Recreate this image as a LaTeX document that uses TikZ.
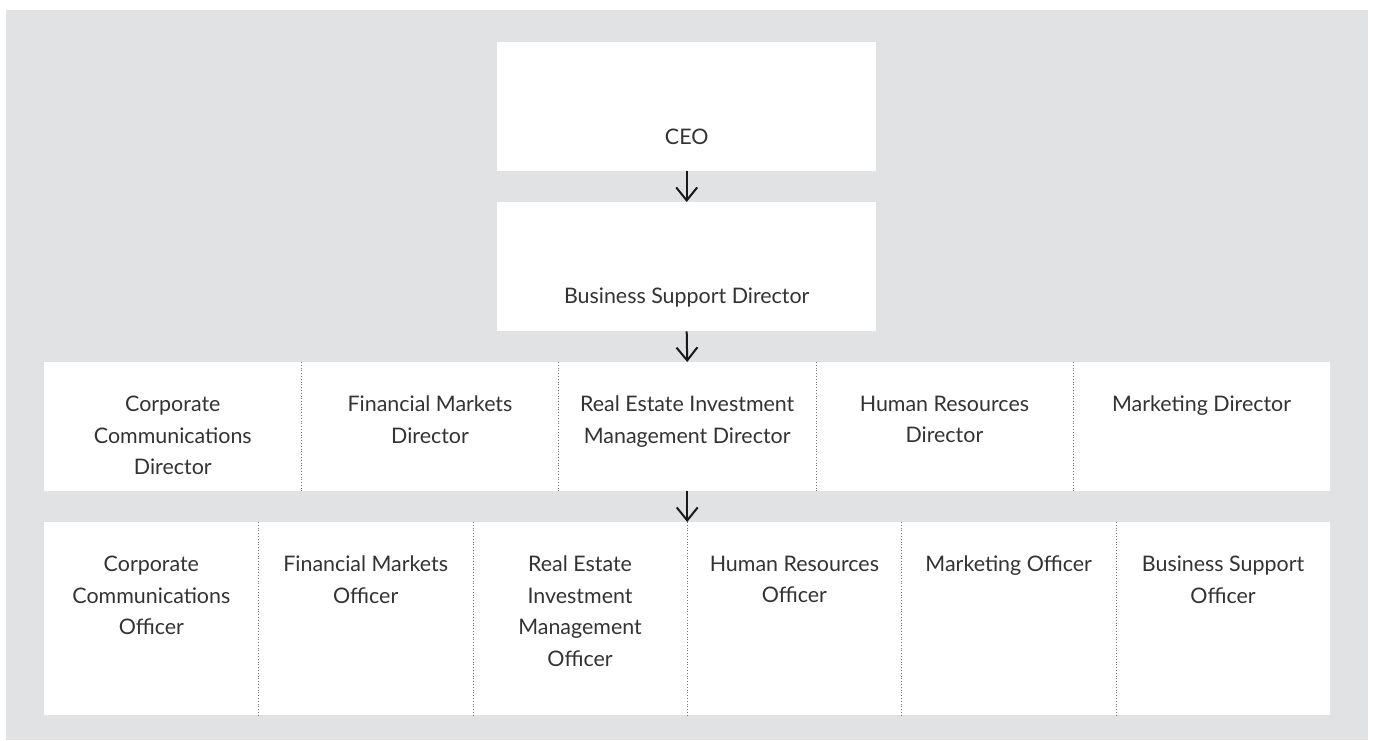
\documentclass[tikz,border=0pt]{standalone}
\usepackage{fontspec}
\setmainfont{Lato}
\usetikzlibrary{arrows.meta}
\definecolor{bg}{HTML}{E1E2E4}
\definecolor{txt}{HTML}{333333}
\definecolor{divc}{HTML}{777777}
\begin{document}
\begin{tikzpicture}[x=1bp,y=-1bp,
  box/.style={fill=white, draw=none, inner sep=0, anchor=north west},
  cellA/.style={draw=none, inner sep=0, anchor=north west, minimum width=257.2bp, minimum height=129bp},
  cellB/.style={draw=none, inner sep=0, anchor=north west, minimum width=214.333bp, minimum height=193bp},
  lbl/.style={text=txt, font=\fontsize{21.5}{31.5}\selectfont, align=center, inner sep=0},
  lblt/.style={lbl, anchor=north},
  divider/.style={draw=divc, dotted, line width=0.8bp},
  arr/.style={draw=black!90, line width=2bp, -{Straight Barb[length=13bp, width=21bp, line width=2bp]}}
]
\useasboundingbox (0,0) rectangle (1373,740);
\fill[bg] (6,10) rectangle (1368,740);

% top boxes
\node[box, minimum width=379bp, minimum height=129bp] (ceo) at (497,42) {};
\node[lbl] (ceot) at ([yshift=-95bp]ceo.north) {CEO};
\node[box, minimum width=379bp, minimum height=129bp] (bsd) at (497,202) {};
\node[lbl] (bsdt) at ([yshift=-96bp]bsd.north) {Business Support Director};

% row 1
\node[box, minimum width=1286bp, minimum height=129bp] (r1) at (44,362) {};
\node[cellA] (a1) at (44,362) {};
\node[cellA] (a2) at (301.2,362) {};
\node[cellA] (a3) at (558.4,362) {};
\node[cellA] (a4) at (815.6,362) {};
\node[cellA] (a5) at (1072.8,362) {};
\node[lblt] (a1t) at ([yshift=-34bp]a1.north) {Corporate\\Communications\\Director};
\node[lblt] (a2t) at ([yshift=-34bp]a2.north) {Financial Markets\\Director};
\node[lblt] (a3t) at ([yshift=-34bp]a3.north) {Real Estate Investment\\Management Director};
\node[lblt] (a4t) at ([yshift=-34bp]a4.north) {Human Resources\\Director};
\node[lblt] (a5t) at ([yshift=-34bp]a5.north) {Marketing Director};
\foreach \c in {a1,a2,a3,a4}{\draw[divider] (\c.north east) -- (\c.south east);}

% row 2
\node[box, minimum width=1286bp, minimum height=193bp] (r2) at (44,522) {};
\node[cellB] (b1) at (44,522) {};
\node[cellB] (b2) at (258.333,522) {};
\node[cellB] (b3) at (472.667,522) {};
\node[cellB] (b4) at (687,522) {};
\node[cellB] (b5) at (901.333,522) {};
\node[cellB] (b6) at (1115.667,522) {};
\node[lblt] (b1t) at ([yshift=-34bp]b1.north) {Corporate\\Communications\\Officer};
\node[lblt] (b2t) at ([yshift=-34bp]b2.north) {Financial Markets\\Officer};
\node[lblt] (b3t) at ([yshift=-34bp]b3.north) {Real Estate\\Investment\\Management\\Officer};
\node[lblt] (b4t) at ([yshift=-34bp]b4.north) {Human Resources\\Officer};
\node[lblt] (b5t) at ([yshift=-34bp]b5.north) {Marketing Officer};
\node[lblt] (b6t) at ([yshift=-34bp]b6.north) {Business Support\\Officer};
\foreach \c in {b1,b2,b3,b4,b5}{\draw[divider] (\c.north east) -- (\c.south east);}

% arrows
\draw[arr] (ceo.south) -- (bsd.north);
\draw[arr] (bsd.south) -- (r1.north);
\draw[arr] (r1.south) -- (r2.north);
\end{tikzpicture}
\end{document}
